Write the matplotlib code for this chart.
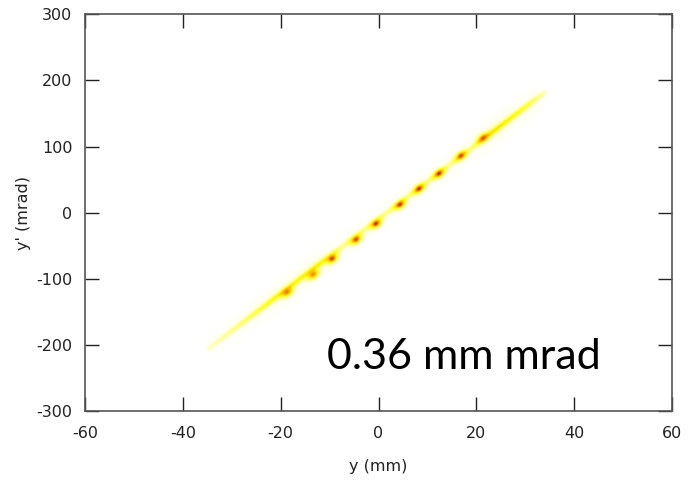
import numpy as np
import matplotlib.pyplot as plt
from matplotlib.colors import LinearSegmentedColormap

plt.rcParams['axes.unicode_minus'] = False

# phase space y - y' : bunch centres
blob_y = [-18.7, -13.4, -9.5, -4.6, -0.5, 4.4, 8.3, 12.4, 16.9, 21.4]
blob_yp = [-121, -94, -70, -41, -17, 12, 36, 59, 86, 113]
blob_peak = [0.3, 0.35, 0.9, 0.85, 1.0, 0.9, 0.9, 0.9, 0.7, 0.35]

# faint band the bunches sit on (ends and brightness along it)
band_y = [-35, 34]
band_yp = [-207, 182]
band_s = [0.0, 0.1, 0.2, 0.33, 0.4, 0.78, 0.85, 0.95, 1.0]
band_level = [0.06, 0.14, 0.24, 0.26, 0.12, 0.12, 0.3, 0.2, 0.08]

emittance_text = "0.36 mm mrad"

# pixels per data unit (used only to shape the density)
px_y = 4.89
px_yp = 0.661


def density():
    gy = np.arange(-60, 60.2, 0.3)
    gp = np.arange(-300, 301, 1.5)
    Y, P = np.meshgrid(gy, gp)
    X = Y * px_y
    Z = P * px_yp
    x0, z0 = band_y[0] * px_y, band_yp[0] * px_yp
    x1, z1 = band_y[1] * px_y, band_yp[1] * px_yp
    L = np.hypot(x1 - x0, z1 - z0)
    dx, dz = (x1 - x0) / L, (z1 - z0) / L
    s = ((X - x0) * dx + (Z - z0) * dz) / L
    t = -(X - x0) * dz + (Z - z0) * dx
    inside = np.clip(1 - np.maximum(-s, s - 1) * L / 3.0, 0, 1)
    lev = np.interp(np.clip(s, 0, 1), band_s, band_level)
    D = lev * inside * (np.exp(-t**2 / (2 * 1.8**2)) + 0.15 * np.exp(-t**2 / (2 * 8.0**2)))
    for by, bp, pk in zip(blob_y, blob_yp, blob_peak):
        ex, ez = X - by * px_y, Z - bp * px_yp
        a = ex * dx + ez * dz
        b = -ex * dz + ez * dx
        D += 0.4 * np.exp(-a**2 / (2 * 4.5**2) - b**2 / (2 * 2.6**2))
        D += pk * 0.45 * np.exp(-a**2 / (2 * 2.0**2) - b**2 / (2 * 1.5**2))
    return gy, gp, np.clip(D, 0, 1)


def plot():
    cmap = LinearSegmentedColormap.from_list("beam", [
        (0.0, "#ffffff"), (0.02, "#fffff4"), (0.1, "#ffffa0"),
        (0.25, "#ffff10"), (0.45, "#ffb800"), (0.75, "#e85000"), (1.0, "#b00000")])

    fig = plt.figure(figsize=(6.89, 4.8), dpi=100)
    ax = fig.add_axes([0.1234, 0.1437, 0.8519, 0.8265])
    gy, gp, D = density()
    ax.imshow(D, extent=[gy[0], gy[-1], gp[0], gp[-1]], origin="lower",
              cmap=cmap, vmin=0, vmax=1, aspect="auto", interpolation="bilinear")

    ax.set_xlim(-60, 60)
    ax.set_ylim(-300, 300)
    ax.set_xticks(np.arange(-60, 61, 20))
    ax.set_yticks(np.arange(-300, 301, 100))
    ax.tick_params(direction="in", length=10, width=1, top=True, right=True,
                   labelsize=11.5, colors="#222222", pad=9)
    ax.tick_params(axis="x", pad=11)
    for sp in ax.spines.values():
        sp.set_color("#555555")
        sp.set_linewidth(1.2)
    ax.set_xlabel("y (mm)", fontsize=11.5, color="#222222", labelpad=13)
    ax.set_ylabel("y' (mrad)", fontsize=11.5, color="#222222", labelpad=4)

    ax.text(-10.5, -236, emittance_text, fontsize=31, family="Lato",
            color="black", ha="left", va="baseline")

    fig.savefig("out.png", dpi=100)


def main():
    plot()


if __name__ == "__main__":
    main()
